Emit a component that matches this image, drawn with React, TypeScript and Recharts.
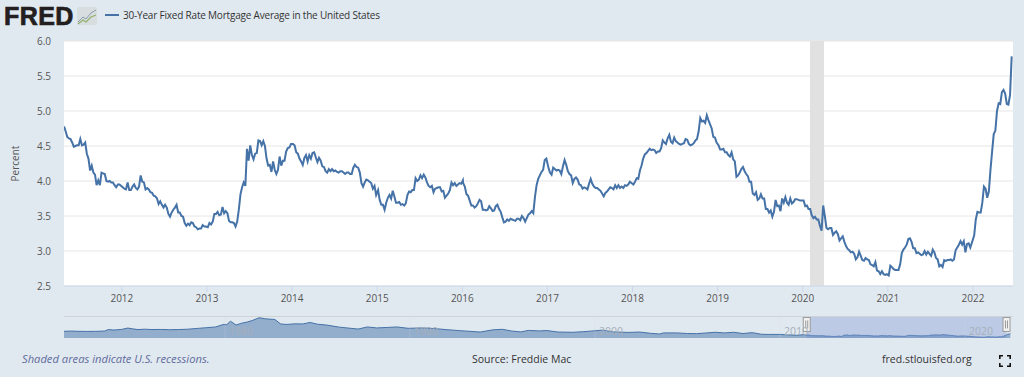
import { Area, AreaChart, CartesianGrid, Line, LineChart, ReferenceArea, ReferenceDot, ReferenceLine, XAxis, YAxis } from "recharts";

const FONT = '"Open Sans", sans-serif';
const BG = "#e1e9f0";
const BLUE = "#4572a7";

// weekly readings, one list per calendar year
const rates2011 = [4.78,4.71,4.63,4.61,4.60,4.55,4.49,4.50,4.51,4.51,4.60,4.51,4.52,4.55,4.39,4.32,4.15,4.22,4.12,4.09,3.94,4.01,3.94,4.12,4.11,4.10,4.00,3.99,4.00,3.98,3.98,3.94,3.91,3.95,3.95];
const rates2012 = [3.91,3.89,3.88,3.98,3.87,3.87,3.92,3.95,3.90,3.88,3.92,4.08,3.99,3.98,3.88,3.90,3.88,3.84,3.83,3.79,3.78,3.75,3.67,3.71,3.66,3.62,3.66,3.62,3.53,3.49,3.55,3.59,3.62,3.66,3.55,3.55,3.50,3.49,3.40,3.36,3.39,3.37,3.41,3.40,3.35,3.34,3.31,3.32,3.32,3.37,3.35,3.35];
const rates2013 = [3.34,3.40,3.38,3.42,3.53,3.53,3.56,3.51,3.52,3.63,3.54,3.57,3.54,3.43,3.41,3.41,3.40,3.35,3.42,3.59,3.81,3.91,3.98,3.93,4.46,4.29,4.51,4.37,4.31,4.39,4.40,4.58,4.57,4.51,4.57,4.50,4.32,4.22,4.23,4.13,4.28,4.16,4.10,4.16,4.35,4.22,4.29,4.29,4.42,4.47,4.48,4.53];
const rates2014 = [4.53,4.51,4.41,4.39,4.32,4.28,4.23,4.33,4.37,4.28,4.37,4.32,4.40,4.41,4.34,4.27,4.33,4.29,4.21,4.20,4.14,4.12,4.17,4.14,4.17,4.14,4.15,4.13,4.12,4.14,4.14,4.12,4.10,4.12,4.12,4.10,4.10,4.19,4.23,4.20,4.19,4.12,3.97,3.92,3.98,4.02,4.01,3.99,3.97,3.89,3.93,3.80];
const rates2015 = [3.87,3.73,3.66,3.66,3.59,3.69,3.76,3.80,3.75,3.86,3.78,3.69,3.69,3.70,3.66,3.67,3.65,3.68,3.80,3.85,3.84,3.87,3.87,4.04,4.00,4.02,4.08,4.04,4.09,4.05,3.98,3.93,3.91,3.93,3.84,3.89,3.90,3.91,3.91,3.85,3.86,3.76,3.79,3.82,3.87,3.98,3.94,3.97,3.93,3.95,3.97,3.96,4.01];
const rates2016 = [3.97,3.92,3.81,3.79,3.72,3.65,3.65,3.62,3.64,3.68,3.73,3.71,3.59,3.59,3.58,3.59,3.64,3.61,3.57,3.58,3.64,3.66,3.60,3.56,3.48,3.41,3.42,3.45,3.43,3.46,3.45,3.44,3.43,3.46,3.46,3.44,3.50,3.47,3.42,3.47,3.52,3.54,3.57,3.54,3.77,3.94,4.03,4.08,4.13,4.16,4.30,4.32];
const rates2017 = [4.20,4.12,4.09,4.19,4.17,4.15,4.16,4.15,4.10,4.21,4.30,4.23,4.14,4.10,4.08,3.97,4.03,4.05,4.02,3.95,3.94,3.89,3.91,3.90,3.88,3.96,4.03,3.96,3.92,3.90,3.90,3.88,3.86,3.82,3.78,3.83,3.85,3.88,3.91,3.90,3.88,3.94,3.90,3.94,3.90,3.92,3.90,3.94,3.93,3.95,3.99];
const rates2018 = [3.95,3.99,4.04,4.03,4.15,4.22,4.32,4.38,4.40,4.43,4.46,4.44,4.45,4.44,4.40,4.42,4.42,4.47,4.58,4.55,4.53,4.61,4.66,4.56,4.54,4.62,4.57,4.55,4.53,4.52,4.53,4.54,4.60,4.59,4.53,4.51,4.52,4.54,4.58,4.60,4.71,4.90,4.85,4.86,4.83,4.94,4.87,4.81,4.75,4.63,4.62,4.55];
const rates2019 = [4.51,4.45,4.45,4.46,4.41,4.41,4.37,4.35,4.41,4.31,4.28,4.06,4.08,4.12,4.17,4.20,4.14,4.10,4.07,3.99,3.99,3.82,3.80,3.84,3.73,3.75,3.81,3.75,3.75,3.60,3.60,3.55,3.58,3.49,3.56,3.73,3.64,3.65,3.57,3.75,3.69,3.77,3.69,3.66,3.75,3.68,3.70,3.74,3.74,3.73,3.72];
const rates2020 = [3.72,3.64,3.65,3.60,3.60,3.51,3.47,3.49,3.45,3.45,3.36,3.29,3.65,3.50,3.33,3.31,3.33,3.33,3.23,3.26,3.28,3.24,3.15,3.18,3.21,3.13,3.07,3.03,3.01,2.98,2.99,2.96,2.88,2.91,2.99,2.93,2.87,2.86,2.90,2.88,2.87,2.81,2.80,2.78,2.84,2.72,2.71,2.67,2.71,2.67,2.66,2.67];
const rates2021 = [2.65,2.79,2.77,2.74,2.73,2.73,2.73,2.81,2.97,3.02,3.05,3.09,3.17,3.18,3.13,3.04,3.04,2.97,2.98,2.96,2.94,2.95,3.00,2.95,2.99,2.96,2.93,3.02,2.98,2.90,2.88,2.78,2.80,2.77,2.87,2.86,2.87,2.87,2.88,2.86,2.88,3.01,3.05,3.09,3.14,3.09,3.14,2.98,3.10,3.11,3.05,3.12];
const rates2022 = [3.22,3.45,3.56,3.55,3.55,3.69,3.92,3.89,3.76,3.85,4.16,4.42,4.67,4.72,5.00,5.11,5.10,5.27,5.30,5.25,5.10,5.09,5.23,5.78];

// first week of each list, as a decimal year
const rateRows: [number, number[]][] = [
  [2011.32, rates2011], [2012.01, rates2012], [2013.01, rates2013], [2014.01, rates2014],
  [2015.01, rates2015], [2016.01, rates2016], [2017.01, rates2017], [2018.01, rates2018],
  [2019.01, rates2019], [2020.01, rates2020], [2021.01, rates2021], [2022.0137, rates2022],
];

// long history shown in the navigator strip
const historyYears = [1971.3,1971.7,1972,1972.5,1973,1973.5,1973.7,1974,1974.4,1974.75,1975,1975.3,1975.7,1976,1976.5,1977,1977.5,1978,1978.5,1979,1979.5,1979.9,1980.1,1980.3,1980.6,1980.9,1981.2,1981.5,1981.85,1982.2,1982.7,1983,1983.3,1983.8,1984.2,1984.6,1985,1985.5,1986.2,1986.6,1987.2,1987.7,1988.2,1988.8,1989.3,1989.9,1990.7,1991.4,1992,1992.7,1993.3,1993.8,1994.5,1995,1995.5,1996,1996.4,1997,1997.4,1998,1998.8,1999.4,2000.4,2001,2001.8,2002.4,2003,2003.5,2003.7,2004.4,2005,2005.5,2006.5,2007,2007.5,2008,2008.5,2009,2009.4,2010,2010.9];
const historyValues = [7.5,7.7,7.5,7.4,7.45,7.7,8.9,8.5,9.0,10.1,9.5,8.9,9.2,8.9,9.0,8.75,8.9,9.2,9.8,10.4,11.0,12.9,12.9,15.6,12.5,14.0,14.9,16.3,18.4,17.5,17.0,13.5,13.0,13.5,13.4,14.6,13.2,12.5,10.8,10.2,9.3,11.0,10.2,10.6,11.0,9.9,10.2,9.6,8.8,8.0,7.4,6.9,8.7,9.1,7.7,7.0,8.2,7.8,8.1,6.9,6.7,7.2,8.4,7.0,6.6,6.9,5.9,5.3,6.2,6.2,5.7,5.6,6.7,6.2,6.7,5.7,6.4,5.1,5.0,5.0,4.3];

const yearTicks = [2012,2013,2014,2015,2016,2017,2018,2019,2020,2021,2022];
const rateTicks = [2.5,3,3.5,4,4.5,5,5.5,6];
const recession = [2020.085, 2020.25];
const decadeMarks = [1980,1990,2000,2010,2020];
const selection = [2011.45, 2022.25];

const rateData = rateRows.flatMap(([start, values]) =>
  values.map((rate, i) => ({ year: start + (i * 7) / 365.25, rate }))
);
const navData = [
  ...historyYears.map((year, i) => ({ year, rate: historyValues[i] })),
  ...rateData,
];

function Handle({ cx, cy }: any) {
  return (
    <g>
      <rect x={cx - 3.5} y={cy - 7} width={7} height={14} fill="#f2f2f2" stroke="#999" />
      <line x1={cx - 1} x2={cx - 1} y1={cy - 4} y2={cy + 4} stroke="#999" />
      <line x1={cx + 1} x2={cx + 1} y1={cy - 4} y2={cy + 4} stroke="#999" />
    </g>
  );
}

const textStyle = { position: "absolute", fontFamily: FONT, whiteSpace: "nowrap" } as const;

export default function App() {
  return (
    <div style={{ position: "absolute", left: 0, top: 0, width: 1024, height: 377, background: BG, overflow: "hidden" }}>
      <div style={{ ...textStyle, left: 4, top: 0, fontFamily: '"Liberation Sans"', fontWeight: 700, fontSize: 25, lineHeight: "32px", color: "#231f20", letterSpacing: 0.4, WebkitTextStroke: "0.7px #231f20" }}>
        FRED
      </div>
      <svg style={{ position: "absolute", left: 77, top: 7 }} width={20} height={18}>
        <rect width={20} height={18} rx={2} fill="#d8dde0" />
        <polyline points="1,15 6,10 9,12 14,6 19,3" fill="none" stroke="#8d9aa8" strokeWidth={1} />
        <polyline points="1,17 6,13 9,15 14,10 19,8" fill="none" stroke="#8fb06a" strokeWidth={1.2} />
      </svg>
      <div style={{ position: "absolute", left: 105, top: 14, width: 14, height: 2, background: BLUE }} />
      <div style={{ ...textStyle, left: 123, top: 7, fontSize: 10, letterSpacing: -0.2, lineHeight: "17px", color: "#333" }}>
        30-Year Fixed Rate Mortgage Average in the United States
      </div>

      <div style={{ position: "absolute", left: 0, top: 0 }}>
        <LineChart width={1024} height={312} data={rateData} margin={{ top: 41, right: 11, bottom: 0, left: 0 }}>
          <CartesianGrid vertical={false} fill="#fff" stroke="#e6e6e6" />
          <XAxis
            dataKey="year"
            type="number"
            domain={[2011.32, 2022.47]}
            ticks={yearTicks}
            tickFormatter={String}
            height={26}
            tickSize={6}
            tickMargin={3}
            allowDataOverflow
            stroke="#ccd6eb"
            tick={{ fill: "#555", fontSize: 10, fontFamily: FONT }}
          />
          <YAxis
            type="number"
            domain={[2.5, 6]}
            ticks={rateTicks}
            tickFormatter={(v: number) => v.toFixed(1)}
            width={64}
            axisLine={false}
            tickLine={false}
            tickSize={0}
            tickMargin={13}
            tick={{ fill: "#555", fontSize: 10, fontFamily: FONT }}
            label={{ value: "Percent", angle: -90, position: "insideLeft", offset: 15, style: { fill: "#555", fontSize: 10, fontFamily: FONT, textAnchor: "middle" } }}
          />
          <ReferenceArea x1={recession[0]} x2={recession[1]} fill="#e1e1e1" fillOpacity={1} stroke="none" />
          <Line dataKey="rate" type="linear" stroke={BLUE} strokeWidth={2} dot={false} isAnimationActive={false} />
        </LineChart>
      </div>

      <div style={{ position: "absolute", left: 64, top: 316 }}>
        <AreaChart width={949} height={22} data={navData} margin={{ top: 0, right: 0, bottom: 0, left: 0 }}>
          <XAxis dataKey="year" type="number" domain={[1971.3, 2022.6]} hide allowDataOverflow />
          <YAxis type="number" domain={[2.1, 19.8]} hide />
          <Area dataKey="rate" type="linear" stroke={BLUE} strokeWidth={1} fill={BLUE} fillOpacity={0.5} isAnimationActive={false} />
          {decadeMarks.map((year) => (
            <ReferenceLine
              key={year}
              x={year}
              stroke="#d8dde3"
              strokeOpacity={0.25}
              label={{ value: String(year), position: "insideLeft", offset: 4, dy: 4, style: { fill: "#a6afba", fontSize: 10.5, fontFamily: FONT } }}
            />
          ))}
          <ReferenceArea x1={selection[0]} x2={selection[1]} fill="#6685cc" fillOpacity={0.3} stroke="none" />
          <ReferenceDot x={selection[0]} y={13} shape={Handle} ifOverflow="visible" />
          <ReferenceDot x={selection[1]} y={13} shape={Handle} ifOverflow="visible" />
        </AreaChart>
      </div>
      <div style={{ position: "absolute", left: 64, top: 316, width: 949, height: 1, background: "#d0d3d6" }} />

      <div style={{ ...textStyle, left: 22, top: 351, fontSize: 11.2, lineHeight: "16px", fontStyle: "italic", color: "#5f6b9c" }}>
        Shaded areas indicate U.S. recessions.
      </div>
      <div style={{ ...textStyle, left: 472, top: 351, fontSize: 10.5, lineHeight: "16px", color: "#333" }}>
        Source: Freddie Mac
      </div>
      <div style={{ ...textStyle, left: 882, top: 351, fontSize: 10.5, lineHeight: "16px", color: "#333" }}>
        fred.stlouisfed.org
      </div>
      <svg style={{ position: "absolute", left: 999, top: 355 }} width={12} height={12}>
        <path d="M0.8 4V0.8H4M8 0.8H11.2V4M11.2 8V11.2H8M4 11.2H0.8V8" fill="none" stroke="#111" strokeWidth={1.6} />
      </svg>
    </div>
  );
}
